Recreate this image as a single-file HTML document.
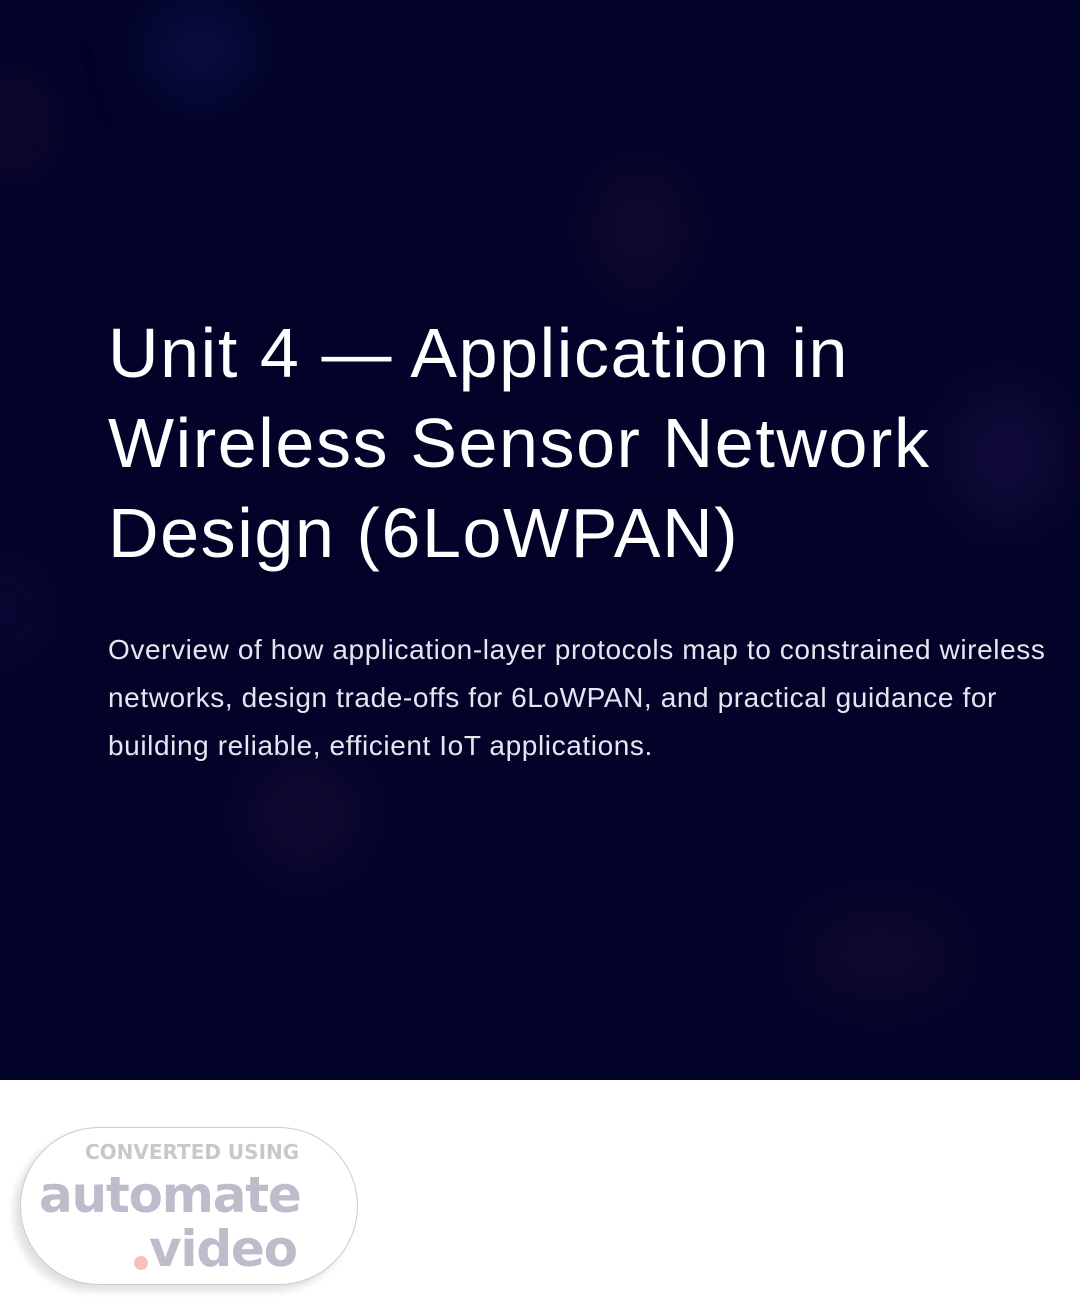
<!DOCTYPE html>
<html><head><meta charset="utf-8"><style>
html,body{margin:0;padding:0;width:1080px;height:1312px;overflow:hidden;background:#fff;}
.hero{position:absolute;left:0;top:0;width:1080px;height:1080px;background:#03032a;overflow:hidden;}
.glow{position:absolute;border-radius:50%;filter:blur(30px);}
h1{position:absolute;left:108px;top:308px;margin:0;font-family:"Liberation Sans",sans-serif;font-weight:400;font-size:70px;line-height:90px;color:#fff;letter-spacing:1.6px;white-space:nowrap;}
p{position:absolute;left:108px;top:626px;margin:0;width:970px;white-space:nowrap;font-family:"Liberation Sans",sans-serif;font-size:28px;line-height:48px;color:#e6e6f0;letter-spacing:0.6px;}
.badge{position:absolute;left:20px;top:1127px;width:336px;height:156px;border:1px solid #ccc;border-radius:80px;background:#fff;box-shadow:-6px 6px 8px rgba(0,0,0,0.12);font-family:"DejaVu Sans",sans-serif;}
.b1{position:absolute;left:64px;top:12px;font-size:20px;font-weight:bold;color:#c8c8cc;}
.b2{position:absolute;left:18px;top:38px;font-size:50px;font-weight:bold;color:#bdbccb;letter-spacing:-1.2px;}
.b3{position:absolute;left:128px;top:92px;font-size:50px;font-weight:bold;color:#bdbccb;letter-spacing:-1.2px;}
.dot{position:absolute;left:113px;top:128px;width:14px;height:14px;border-radius:50%;background:#f7c3b8;}
</style></head><body>
<div class="hero">
<div class="glow" style="left:150px;top:10px;width:100px;height:80px;background:#0b1046;"></div>
<div class="glow" style="left:-20px;top:80px;width:60px;height:90px;background:#1a0a30;"></div>
<div class="glow" style="left:600px;top:170px;width:80px;height:120px;background:#150a2e;"></div>
<div class="glow" style="left:950px;top:390px;width:110px;height:130px;background:#120c3a;"></div>
<div class="glow" style="left:250px;top:760px;width:110px;height:110px;background:#140a32;"></div>
<div class="glow" style="left:800px;top:910px;width:160px;height:90px;background:#110a2c;"></div>
<div class="glow" style="left:-20px;top:570px;width:50px;height:80px;background:#0c0c3c;"></div>
<h1>Unit 4 — Application in<br>Wireless Sensor Network<br>Design (6LoWPAN)</h1>
<p>Overview of how application-layer protocols map to constrained wireless<br>networks, design trade-offs for 6LoWPAN, and practical guidance for<br>building reliable, efficient IoT applications.</p>
</div>
<div class="badge"><div class="b1">CONVERTED USING</div><div class="b2">automate</div><div class="dot"></div><div class="b3">video</div></div>
</body></html>
